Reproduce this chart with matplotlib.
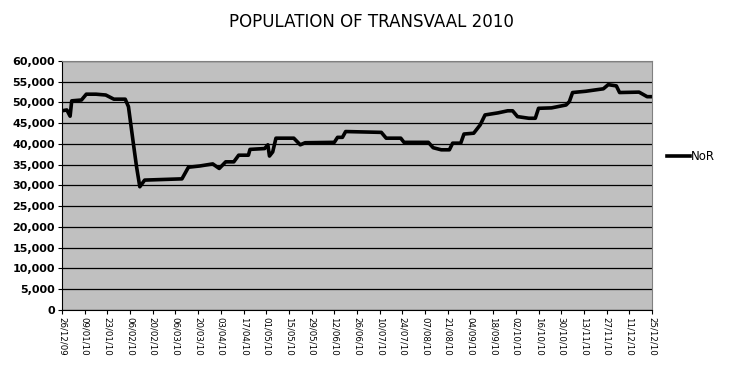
import pandas as pd
import matplotlib.pyplot as plt
import matplotlib.dates as mdates
from matplotlib.ticker import FuncFormatter, MultipleLocator

# Population readings
dates = ['2009-12-26', '2009-12-29', '2009-12-31', '2010-01-01', '2010-01-07',
         '2010-01-10', '2010-01-16', '2010-01-22', '2010-01-27', '2010-02-03',
         '2010-02-05', '2010-02-08', '2010-02-10', '2010-02-12', '2010-02-15',
         '2010-03-10', '2010-03-14', '2010-03-21', '2010-03-29', '2010-04-02',
         '2010-04-06', '2010-04-11', '2010-04-14', '2010-04-20', '2010-04-21',
         '2010-04-30', '2010-05-02', '2010-05-03', '2010-05-05', '2010-05-07',
         '2010-05-18', '2010-05-22', '2010-05-25', '2010-06-12', '2010-06-14',
         '2010-06-17', '2010-06-19', '2010-07-11', '2010-07-14', '2010-07-23',
         '2010-07-25', '2010-08-09', '2010-08-12', '2010-08-17', '2010-08-22',
         '2010-08-24', '2010-08-29', '2010-08-31', '2010-09-06', '2010-09-10',
         '2010-09-13', '2010-09-21', '2010-09-27', '2010-09-30', '2010-10-03',
         '2010-10-10', '2010-10-14', '2010-10-16', '2010-10-24', '2010-11-02',
         '2010-11-04', '2010-11-06', '2010-11-14', '2010-11-25', '2010-11-28',
         '2010-12-03', '2010-12-05', '2010-12-17', '2010-12-22', '2010-12-25']
nor = [48000, 48200, 46700, 50400, 50600,
       52000, 52000, 51800, 50800, 50800,
       49000, 40200, 34500, 29700, 31300,
       31600, 34400, 34700, 35200, 34100,
       35700, 35700, 37300, 37300, 38700,
       38900, 39800, 37100, 38100, 41400,
       41400, 39800, 40300, 40400, 41600,
       41600, 43000, 42800, 41400, 41400,
       40400, 40400, 39100, 38600, 38600,
       40200, 40200, 42400, 42600, 44600,
       47000, 47500, 48000, 48000, 46600,
       46200, 46200, 48600, 48700, 49400,
       50200, 52400, 52700, 53300, 54300,
       54000, 52400, 52500, 51400, 51400]

tick_dates = pd.date_range('2009-12-26', '2010-12-25', freq='14D')
x = pd.to_datetime(dates)

fig = plt.figure(figsize=(7.32, 3.65), dpi=100)
ax = fig.add_axes([0.0847, 0.1507, 0.8060, 0.6822])
ax.set_facecolor('#c0c0c0')

ax.plot(x, nor, color='black', linewidth=2.6, label='NoR', solid_joinstyle='round')

ax.set_ylim(0, 60000)
ax.set_xlim(tick_dates[0], tick_dates[-1])
ax.yaxis.set_major_locator(MultipleLocator(5000))
ax.yaxis.set_major_formatter(FuncFormatter(lambda v, p: f'{int(v):,}'))
ax.grid(axis='y', color='black', linewidth=0.9)
ax.set_axisbelow(True)

ax.set_xticks(tick_dates)
ax.xaxis.set_major_formatter(mdates.DateFormatter('%d/%m/%y'))
plt.setp(ax.get_xticklabels(), rotation=-90, fontsize=6.2)
plt.setp(ax.get_yticklabels(), fontsize=8, fontweight='bold')
ax.tick_params(axis='both', length=3, width=0.8, pad=2)

for side in ['top', 'right']:
    ax.spines[side].set_color('#808080')
for side in ['left', 'bottom']:
    ax.spines[side].set_color('black')

fig.text(0.508, 0.94, 'POPULATION OF TRANSVAAL 2010', ha='center', va='center', fontsize=12)

fig.legend(loc='center left', bbox_to_anchor=(0.897, 0.57), frameon=False,
           fontsize=8.5, handlelength=1.9, handletextpad=0.1)

plt.savefig('out.png', dpi=100)
